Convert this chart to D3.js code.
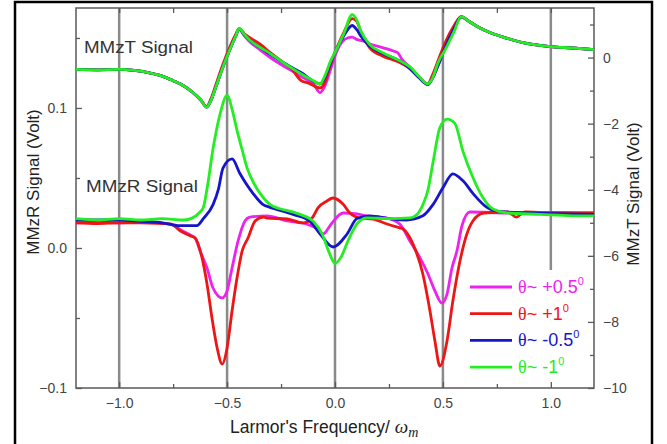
<!DOCTYPE html>
<html>
<head>
<meta charset="utf-8">
<script src="https://cdn.jsdelivr.net/npm/d3@7"></script>
<style>
  body { margin: 0; background: #fff; }
  svg { display: block; font-family: Arial, "Liberation Sans", sans-serif; }
</style>
</head>
<body>
<script>
// MMzT traces (right axis, Volt) and MMzR traces (left axis, Volt), x = Larmor freq / w_m

var mmztMagenta = [[-1.2,-0.36],[-1.1,-0.37],[-1.0,-0.36],[-0.93,-0.39],[-0.86,-0.46],[-0.8,-0.56],[-0.75,-0.70],[-0.7,-0.86],[-0.66,-1.05],[-0.62,-1.3],[-0.595,-1.5],[-0.575,-1.3],[-0.55,-0.85],[-0.52,-0.3],[-0.49,0.2],[-0.46,0.65],[-0.444,0.86],[-0.42,0.66],[-0.39,0.45],[-0.35,0.25],[-0.3,0.0],[-0.24,-0.25],[-0.2,-0.4],[-0.15,-0.6],[-0.1,-0.8],[-0.07,-1.06],[-0.05,-0.9],[-0.02,-0.35],[0.0,0.05],[0.03,0.45],[0.06,0.6],[0.08,0.62],[0.1,0.55],[0.13,0.5],[0.16,0.42],[0.22,0.3],[0.27,0.2],[0.29,0.15],[0.31,-0.05],[0.35,-0.3],[0.39,-0.58],[0.43,-0.8],[0.45,-0.65],[0.48,-0.2],[0.51,0.3],[0.55,0.85],[0.585,1.22],[0.62,1.1],[0.67,0.9],[0.72,0.75],[0.8,0.58],[0.87,0.45],[1.0,0.33],[1.1,0.29],[1.2,0.24]];
var mmztRed = [[-1.2,-0.36],[-1.1,-0.37],[-1.0,-0.36],[-0.93,-0.39],[-0.86,-0.46],[-0.8,-0.56],[-0.75,-0.70],[-0.7,-0.86],[-0.66,-1.05],[-0.62,-1.3],[-0.595,-1.48],[-0.575,-1.25],[-0.55,-0.78],[-0.52,-0.22],[-0.49,0.28],[-0.46,0.7],[-0.444,0.88],[-0.42,0.72],[-0.39,0.58],[-0.35,0.42],[-0.3,0.15],[-0.24,-0.15],[-0.2,-0.35],[-0.16,-0.68],[-0.12,-0.78],[-0.07,-0.92],[-0.05,-0.8],[-0.02,-0.2],[0.0,0.15],[0.04,0.75],[0.08,1.18],[0.1,1.1],[0.12,0.78],[0.16,0.3],[0.22,0.05],[0.3,-0.15],[0.35,-0.35],[0.39,-0.6],[0.43,-0.8],[0.45,-0.55],[0.48,-0.05],[0.51,0.45],[0.55,0.95],[0.585,1.24],[0.62,1.1],[0.67,0.9],[0.72,0.75],[0.8,0.58],[0.87,0.45],[1.0,0.33],[1.1,0.29],[1.2,0.24]];
var mmztBlue = [[-1.2,-0.36],[-1.1,-0.37],[-1.0,-0.36],[-0.93,-0.39],[-0.86,-0.46],[-0.8,-0.56],[-0.75,-0.70],[-0.7,-0.86],[-0.66,-1.05],[-0.62,-1.3],[-0.595,-1.5],[-0.575,-1.3],[-0.55,-0.85],[-0.52,-0.3],[-0.49,0.2],[-0.46,0.65],[-0.444,0.86],[-0.42,0.68],[-0.39,0.5],[-0.35,0.32],[-0.3,0.1],[-0.24,-0.15],[-0.2,-0.3],[-0.15,-0.48],[-0.1,-0.72],[-0.07,-0.8],[-0.05,-0.65],[-0.02,-0.15],[0.0,0.16],[0.04,0.65],[0.08,0.97],[0.1,0.85],[0.12,0.65],[0.16,0.35],[0.22,0.12],[0.3,-0.1],[0.35,-0.35],[0.39,-0.62],[0.43,-0.82],[0.45,-0.65],[0.48,-0.2],[0.51,0.3],[0.55,0.85],[0.585,1.24],[0.62,1.1],[0.67,0.9],[0.72,0.75],[0.8,0.58],[0.87,0.45],[1.0,0.33],[1.1,0.29],[1.2,0.24]];
var mmztGreen = [[-1.2,-0.36],[-1.1,-0.37],[-1.0,-0.36],[-0.93,-0.39],[-0.86,-0.46],[-0.8,-0.56],[-0.75,-0.70],[-0.7,-0.86],[-0.66,-1.05],[-0.62,-1.3],[-0.595,-1.5],[-0.575,-1.3],[-0.55,-0.85],[-0.52,-0.3],[-0.49,0.2],[-0.46,0.65],[-0.444,0.88],[-0.42,0.7],[-0.39,0.5],[-0.35,0.32],[-0.3,0.12],[-0.24,-0.15],[-0.2,-0.32],[-0.15,-0.52],[-0.1,-0.7],[-0.07,-0.8],[-0.05,-0.6],[-0.02,-0.1],[0.0,0.16],[0.04,0.71],[0.08,1.3],[0.1,1.15],[0.12,0.8],[0.16,0.4],[0.22,0.15],[0.3,-0.1],[0.35,-0.3],[0.39,-0.58],[0.43,-0.8],[0.45,-0.65],[0.48,-0.12],[0.51,0.23],[0.55,0.76],[0.585,1.24],[0.62,1.1],[0.67,0.9],[0.72,0.75],[0.8,0.58],[0.87,0.45],[1.0,0.33],[1.1,0.29],[1.2,0.24]];

var mmzrMagenta = [[-1.2,0.018],[-1.1,0.0185],[-1.0,0.018],[-0.9,0.0186],[-0.76,0.017],[-0.716,0.013],[-0.67,0.0093],[-0.648,0.0071],[-0.625,-0.0021],[-0.593,-0.0143],[-0.565,-0.0286],[-0.523,-0.0357],[-0.5,-0.0307],[-0.477,-0.0143],[-0.449,0.005],[-0.417,0.0193],[-0.394,0.0221],[-0.315,0.0229],[-0.222,0.0193],[-0.13,0.0171],[-0.083,0.0136],[-0.056,0.01],[-0.014,0.0179],[0.037,0.025],[0.102,0.0243],[0.148,0.0229],[0.241,0.0214],[0.3,0.0171],[0.347,0.005],[0.394,-0.0071],[0.431,-0.0186],[0.463,-0.0307],[0.495,-0.0393],[0.519,-0.0329],[0.542,-0.0143],[0.565,-0.0021],[0.588,0.0157],[0.625,0.0257],[0.8,0.025],[1.0,0.0255],[1.2,0.025]];
var mmzrRed = [[-1.2,0.018],[-1.1,0.0175],[-1.0,0.018],[-0.9,0.0179],[-0.76,0.0171],[-0.716,0.0121],[-0.67,0.0086],[-0.648,0.0071],[-0.616,-0.0071],[-0.593,-0.0257],[-0.57,-0.05],[-0.546,-0.0714],[-0.523,-0.0829],[-0.5,-0.0714],[-0.477,-0.045],[-0.454,-0.0214],[-0.43,-0.0021],[-0.403,0.0071],[-0.37,0.0193],[-0.333,0.0221],[-0.315,0.0214],[-0.222,0.0207],[-0.148,0.0179],[-0.106,0.0214],[-0.079,0.0286],[-0.037,0.0336],[-0.01,0.0357],[0.037,0.0314],[0.069,0.025],[0.116,0.0214],[0.176,0.0207],[0.241,0.0171],[0.3,0.0143],[0.315,0.0136],[0.361,0.0029],[0.407,-0.0186],[0.44,-0.045],[0.463,-0.0664],[0.486,-0.0843],[0.519,-0.0664],[0.546,-0.0379],[0.579,-0.0093],[0.611,0.01],[0.639,0.0193],[0.69,0.025],[0.8,0.0257],[0.84,0.0221],[0.88,0.0257],[1.0,0.025],[1.2,0.025]];
var mmzrBlue = [[-1.2,0.020],[-1.0,0.020],[-0.9,0.019],[-0.8,0.018],[-0.72,0.016],[-0.64,0.016],[-0.61,0.021],[-0.565,0.031],[-0.54,0.042],[-0.519,0.057],[-0.477,0.0636],[-0.44,0.053],[-0.38,0.039],[-0.333,0.031],[-0.3,0.029],[-0.194,0.024],[-0.116,0.019],[-0.069,0.010],[-0.009,0.0007],[0.056,0.010],[0.102,0.021],[0.162,0.023],[0.25,0.021],[0.33,0.020],[0.407,0.023],[0.454,0.031],[0.5,0.043],[0.546,0.053],[0.593,0.048],[0.639,0.039],[0.704,0.029],[0.764,0.026],[0.9,0.025],[1.2,0.024]];
var mmzrGreen = [[-1.2,0.021],[-1.1,0.020],[-1.0,0.021],[-0.9,0.020],[-0.8,0.021],[-0.7,0.020],[-0.66,0.0215],[-0.63,0.025],[-0.61,0.029],[-0.59,0.045],[-0.565,0.071],[-0.532,0.096],[-0.5,0.109],[-0.475,0.098],[-0.454,0.084],[-0.43,0.070],[-0.407,0.057],[-0.375,0.046],[-0.347,0.039],[-0.3,0.031],[-0.255,0.028],[-0.2,0.026],[-0.162,0.024],[-0.1,0.019],[-0.06,0.010],[-0.025,-0.004],[0.0,-0.011],[0.03,-0.006],[0.06,0.005],[0.106,0.018],[0.15,0.0215],[0.25,0.021],[0.347,0.0215],[0.38,0.024],[0.41,0.032],[0.43,0.041],[0.455,0.062],[0.486,0.086],[0.52,0.092],[0.555,0.089],[0.593,0.069],[0.64,0.050],[0.685,0.036],[0.73,0.028],[0.8,0.025],[0.95,0.024],[1.1,0.023],[1.2,0.023]];

var seriesColors = ["#ee22ee", "#ee1515", "#1515cc", "#22ee22"];
var legendLabels = ["+0.5", "+1", "-0.5", "-1"];
var xMajor = [-1.0, -0.5, 0.0, 0.5, 1.0];
var xMinor = [-0.75, -0.25, 0.25, 0.75];
var yLeftMajor = [-0.1, 0.0, 0.1];
var yLeftMinor = [-0.05, 0.05, 0.15];
var yRightMajor = [-10, -8, -6, -4, -2, 0];
var yRightMinor = [-9, -7, -5, -3, -1, 1];

var W = 667, H = 444;
var svg = d3.select("body").append("svg").attr("width", W).attr("height", H);

var x = d3.scaleLinear().domain([-1.2, 1.2]).range([76, 594]);
var yL = d3.scaleLinear().domain([-0.1, 0.1714]).range([388, 8]);
var yR = d3.scaleLinear().domain([-10, 1.5]).range([388, 8]);

// outer frame
svg.append("rect").attr("x", 15).attr("y", 2).attr("width", 637).attr("height", 446)
  .attr("fill", "none").attr("stroke", "#000").attr("stroke-width", 2.5);

// vertical reference lines
svg.selectAll(".vline").data(xMajor).enter().append("line")
  .attr("class", "vline")
  .attr("x1", function(d) { return x(d); }).attr("x2", function(d) { return x(d); })
  .attr("y1", 8).attr("y2", function(d) { return d === 1.0 ? 270 : 388; })
  .attr("stroke", "#8a8a8a").attr("stroke-width", 2.5);

var axisColor = "#5a5a5a", labelColor = "#444";

function styleAxis(g) {
  g.selectAll("path").attr("stroke", "none");
  g.selectAll("line").attr("stroke", axisColor).attr("stroke-width", 1.3);
  g.selectAll("text").attr("fill", labelColor).style("font-size", "14px").style("font-family", "Arial, 'Liberation Sans', sans-serif");
}

svg.append("g").attr("transform", "translate(0,388)")
  .call(d3.axisBottom(x).tickValues(xMajor).tickSize(-6).tickPadding(10).tickFormat(d3.format(".1f")))
  .call(styleAxis);
svg.append("g").attr("transform", "translate(0,388)")
  .call(d3.axisBottom(x).tickValues(xMinor).tickSize(-4).tickFormat(""))
  .call(styleAxis);
svg.append("g").attr("transform", "translate(0,8)")
  .call(d3.axisTop(x).tickValues(xMajor.concat(xMinor)).tickSize(-5).tickFormat(""))
  .call(styleAxis);

svg.append("g").attr("transform", "translate(76,0)")
  .call(d3.axisLeft(yL).tickValues(yLeftMajor).tickSize(-6).tickPadding(9).tickFormat(d3.format(".1f")))
  .call(styleAxis);
svg.append("g").attr("transform", "translate(76,0)")
  .call(d3.axisLeft(yL).tickValues(yLeftMinor).tickSize(-4).tickFormat(""))
  .call(styleAxis);

svg.append("g").attr("transform", "translate(594,0)")
  .call(d3.axisRight(yR).tickValues(yRightMajor).tickSize(-6).tickPadding(9).tickFormat(d3.format("d")))
  .call(styleAxis);
svg.append("g").attr("transform", "translate(594,0)")
  .call(d3.axisRight(yR).tickValues(yRightMinor).tickSize(-4).tickFormat(""))
  .call(styleAxis);

// plot box
svg.append("rect").attr("x", 76).attr("y", 8).attr("width", 518).attr("height", 380)
  .attr("fill", "none").attr("stroke", axisColor).attr("stroke-width", 1.5);

// traces
var lineT = d3.line().x(function(d) { return x(d[0]); }).y(function(d) { return yR(d[1]); }).curve(d3.curveMonotoneX);
var lineR = d3.line().x(function(d) { return x(d[0]); }).y(function(d) { return yL(d[1]); }).curve(d3.curveMonotoneX);

var mmzt = [mmztMagenta, mmztRed, mmztBlue, mmztGreen];
var mmzr = [mmzrMagenta, mmzrRed, mmzrBlue, mmzrGreen];

svg.selectAll(".trT").data(mmzt).enter().append("path")
  .attr("class", "trT")
  .attr("d", lineT)
  .attr("fill", "none")
  .attr("stroke", function(d, i) { return seriesColors[i]; })
  .attr("stroke-width", 2.8).attr("stroke-linejoin", "round");

svg.selectAll(".trR").data(mmzr).enter().append("path")
  .attr("class", "trR")
  .attr("d", lineR)
  .attr("fill", "none")
  .attr("stroke", function(d, i) { return seriesColors[i]; })
  .attr("stroke-width", 2.8).attr("stroke-linejoin", "round");

// in-plot labels
svg.append("text").attr("x", 84).attr("y", 53).attr("fill", "#333")
  .style("font-size", "16px").attr("textLength", 109).attr("lengthAdjust", "spacingAndGlyphs")
  .text("MMzT Signal");
svg.append("text").attr("x", 86).attr("y", 192).attr("fill", "#333")
  .style("font-size", "16px").attr("textLength", 112).attr("lengthAdjust", "spacingAndGlyphs")
  .text("MMzR Signal");

// legend
var leg = svg.selectAll(".leg").data(legendLabels).enter().append("g")
  .attr("class", "leg")
  .attr("transform", function(d, i) { return "translate(470," + (287 + i * 26.7) + ")"; });
leg.append("line").attr("x1", 0).attr("x2", 42)
  .attr("stroke", function(d, i) { return seriesColors[i]; }).attr("stroke-width", 2.8);
var lt = leg.append("text").attr("x", 48).attr("y", 6)
  .attr("fill", function(d, i) { return seriesColors[i]; })
  .style("font-size", "18px");
lt.append("tspan").style("font-family", "'Liberation Serif', serif").text("\u03B8");
lt.append("tspan").text(function(d) { return "~ " + d; });
lt.append("tspan").attr("dy", -8).style("font-size", "11px").text("0");

// axis titles
svg.append("text").attr("transform", "translate(39,182) rotate(-90)")
  .attr("text-anchor", "middle").attr("fill", "#222").style("font-size", "17px")
  .text("MMzR Signal (Volt)");
svg.append("text").attr("transform", "translate(639,194) rotate(-90)")
  .attr("text-anchor", "middle").attr("fill", "#222").style("font-size", "17px")
  .text("MMzT Signal (Volt)");

var xt = svg.append("text").attr("x", 230).attr("y", 433).attr("fill", "#222").style("font-size", "17.5px");
xt.append("tspan").text("Larmor's Frequency/ ");
xt.append("tspan").style("font-family", "'Liberation Serif', serif").style("font-style", "italic").style("font-size", "19px").text("\u03C9");
xt.append("tspan").attr("dy", 4).style("font-family", "'Liberation Serif', serif").style("font-style", "italic").style("font-size", "14px").text("m");
</script>
</body>
</html>
